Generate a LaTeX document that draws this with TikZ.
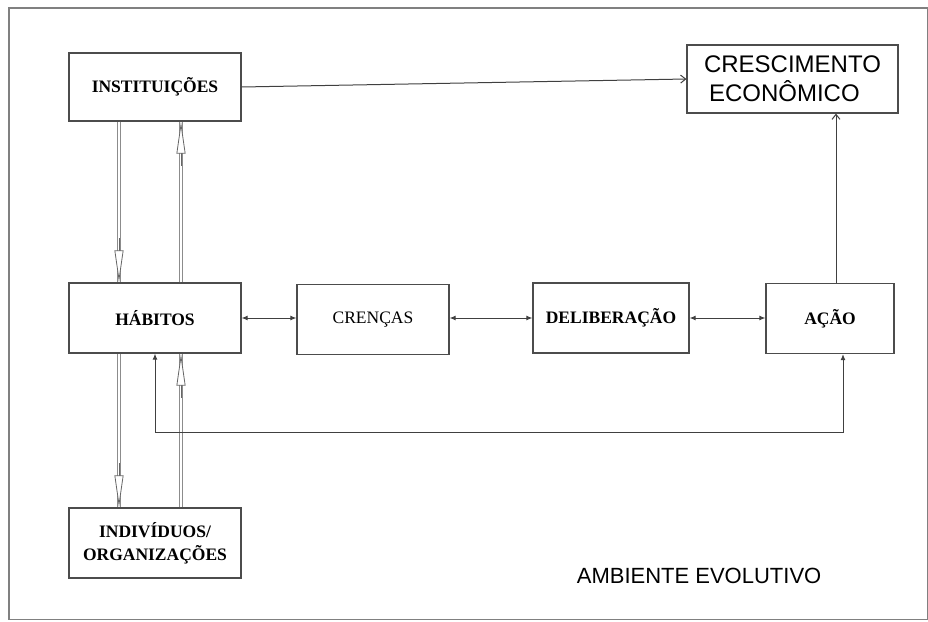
\documentclass[tikz,border=0pt]{standalone}
\usepackage{fontspec}
\setmainfont{Liberation Serif}
\newfontfamily\arialfont{Liberation Sans}
\usetikzlibrary{arrows.meta}

\begin{document}
\begin{tikzpicture}[x=1pt, y=-1pt, line width=1pt,
    box/.style={draw=black!70, line width=1.2pt, fill=white, align=center, font=\fontsize{17.5}{23}\selectfont\bfseries},
    dbl/.style={draw=black!45, double=white, double distance=1.6pt, line width=0.9pt},
    tiphead/.style={draw=black!60, line width=0.8pt, -{Triangle[open, length=32pt, width=9pt, fill=white]}},
    small/.style={draw=black!75, {Latex[length=6pt, width=5pt]}-{Latex[length=6pt, width=5pt]}},
    open/.style={draw=black!75, -{Straight Barb[length=5pt, width=8pt]}}]
    \useasboundingbox (0,0) rectangle (928,621);
    \draw[black!50, line width=1.5pt] (9,8) rectangle (927.5,619.5);
    % boxes
    \node[box, minimum width=172pt, minimum height=68pt] (inst) at (155,87) {INSTITUIÇÕES};
    \node[box, minimum width=172pt, minimum height=70pt] (hab) at (155,318) {HÁBITOS};
    \node[box, minimum width=152pt, minimum height=70pt, font=\fontsize{17.5}{23}\selectfont] (cren) at (373,319.5) {CRENÇAS};
    \node[box, minimum width=156pt, minimum height=70pt] (delib) at (611,318) {DELIBERAÇÃO};
    \node[box, minimum width=128pt, minimum height=70pt] (acao) at (830,318.5) {AÇÃO};
    \node[box, minimum width=172pt, minimum height=70pt] (indiv) at (155,543) {INDIVÍDUOS/\\ORGANIZAÇÕES};
    \node[box, minimum width=211pt, minimum height=68pt, align=left, font=\arialfont\fontsize{24}{29}\selectfont] (cresc) at (792.5,79) {CRESCIMENTO\\\hspace*{5pt}ECONÔMICO};
    \node[font=\arialfont\fontsize{22}{26}\selectfont, anchor=west] (amb) at (573,576) {AMBIENTE EVOLUTIVO};
    % institutions <-> habits <-> individuals
    \draw[dbl] ([xshift=-36pt]inst.south) -- ([xshift=-36pt]hab.north);
    \draw[tiphead] ([xshift=-36pt,yshift=44pt]hab.north) -- ([xshift=-36pt]hab.north);
    \draw[dbl] ([xshift=26pt]hab.north) -- ([xshift=26pt]inst.south);
    \draw[tiphead] ([xshift=26pt,yshift=-44pt]inst.south) -- ([xshift=26pt]inst.south);
    \draw[dbl] ([xshift=-36pt]hab.south) -- ([xshift=-36pt]indiv.north);
    \draw[tiphead] ([xshift=-36pt,yshift=44pt]indiv.north) -- ([xshift=-36pt]indiv.north);
    \draw[dbl] ([xshift=26pt]indiv.north) -- ([xshift=26pt]hab.south);
    \draw[tiphead] ([xshift=26pt,yshift=-44pt]hab.south) -- ([xshift=26pt]hab.south);
    % chain
    \draw[small] (hab.east) -- (cren.west |- hab.east);
    \draw[small] (cren.east |- hab.east) -- (delib.west);
    \draw[small] (delib.east) -- (acao.west |- delib.east);
    \draw[small] ([xshift=13pt]acao.south) -- ++(0,78) -| (hab.south);
    % growth
    \draw[open] (inst.east) -- (cresc.west);
    \draw[open] ([xshift=6pt]acao.north) -- ([xshift=6pt]acao.north |- cresc.south);
\end{tikzpicture}
\end{document}
